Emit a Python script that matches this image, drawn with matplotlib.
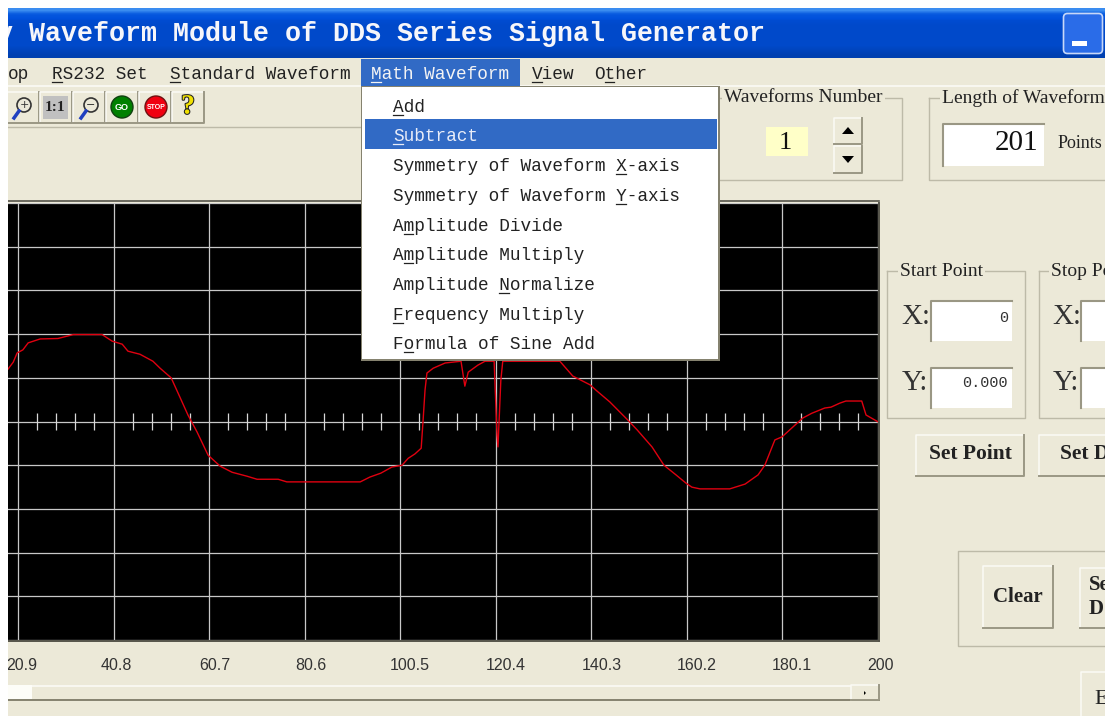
import numpy as np
import matplotlib
matplotlib.use("Agg")
import matplotlib.pyplot as plt
import matplotlib.patheffects as pe
from matplotlib.colors import LinearSegmentedColormap
from matplotlib.patches import Rectangle, FancyBboxPatch, Circle, Polygon

# waveform (x in points, y in divisions)
wave_x = [18.8, 19.9, 20.7, 21.9, 23.0, 25.5, 29.2, 32.4, 38.4, 40.5, 42.6, 43.8, 46.3, 49.0, 50.5,
          52.8, 54.7, 56.3, 58.2, 60.5, 63.0, 65.5, 68.6, 70.7, 75.1, 76.9, 92.2, 94.2, 96.5, 98.8,
          100.9, 102.2, 103.6, 104.9, 105.3, 105.7, 106.1, 107.4, 109.9, 113.2, 114.0, 114.7, 116.7,
          118.2, 120.1, 120.7, 120.9, 121.5, 121.9, 133.8, 136.5, 140.1, 141.3, 144.2, 148.0, 149.9,
          153.0, 155.5, 158.0, 160.1, 161.3, 163.0, 169.2, 172.4, 175.1, 176.5, 178.6, 180.1, 182.8,
          184.4, 186.3, 189.0, 190.3, 192.1, 193.4, 196.7, 197.6, 198.4, 200.0]
wave_y = [1.20, 1.36, 1.57, 1.64, 1.80, 1.89, 1.90, 1.99, 1.99, 1.84, 1.77, 1.61, 1.54, 1.38, 1.22,
          1.00, 0.54, 0.15, -0.24, -0.77, -1.02, -1.16, -1.25, -1.32, -1.32, -1.38, -1.38, -1.27, -1.18, -1.04,
          -1.00, -0.84, -0.74, -0.61, 0.03, 0.72, 1.11, 1.22, 1.34, 1.38, 0.81, 1.13, 1.29,
          1.38, 1.38, -0.31, -0.58, 0.95, 1.38, 1.38, 1.04, 0.84, 0.72, 0.45, 0.03, -0.19,
          -0.58, -1.00, -1.22, -1.41, -1.50, -1.54, -1.54, -1.43, -1.22, -1.00, -0.42, -0.35, -0.08,
          0.08, 0.19, 0.31, 0.33, 0.42, 0.47, 0.47, 0.15, 0.10, 0.0]

x_ticks = [20.9, 40.8, 60.7, 80.6, 100.5, 120.4, 140.3, 160.2, 180.1, 200]
x_tick_labels = ["20.9", "40.8", "60.7", "80.6", "100.5", "120.4", "140.3", "160.2", "180.1", "200"]
label_shift = [4, 3, 6, 6, 10, 10, 11, 10, 10, 3]
y_ticks = [-5, -4, -3, -2, -1, 0, 1, 2, 3, 4, 5]
menu_bar = [("op", 8, None), ("RS232 Set", 52, 0), ("Standard Waveform", 170, 0), ("View", 532, 0), ("Other", 594, 1)]
menu_items = [("Add", 0), ("Subtract", 0), ("Symmetry of Waveform X-axis", 21), ("Symmetry of Waveform Y-axis", 21),
              ("Amplitude Divide", 1), ("Amplitude Multiply", 1), ("Amplitude Normalize", 10),
              ("Frequency Multiply", 0), ("Formula of Sine Add", 1)]
menu_y = [106, 135, 165, 195, 225, 254, 284, 314, 343]

W, H = 1109, 716
BG = "#ECE9D8"
MONO = "Liberation Mono"
SERIF = "Liberation Serif"
CW = 10.63

fig = plt.figure(figsize=(W / 100, H / 100), dpi=100, facecolor="white")


def pixel_axes(z):
    a = fig.add_axes([0, 0, 1, 1], zorder=z)
    a.set_xlim(0, W)
    a.set_ylim(H, 0)
    a.axis("off")
    return a


def box(a, x0, y0, x1, y1, color, z=1, **kw):
    a.add_patch(Rectangle((x0, y0), x1 - x0, y1 - y0, facecolor=color, edgecolor="none", zorder=z, **kw))


def raised(a, x0, y0, x1, y1, face=BG):
    box(a, x0, y0, x1, y1, face, 2)
    a.plot([x0, x0, x1], [y1, y0, y0], color="#FBFAF5", lw=1.1, zorder=3)
    a.plot([x0, x1, x1], [y1, y1, y0], color="#9A9784", lw=1.4, zorder=3)


def sunken(a, x0, y0, x1, y1):
    box(a, x0, y0, x1, y1, "white", 2)
    a.plot([x0, x0, x1], [y1, y0, y0], color="#9A9784", lw=1.5, zorder=3)


def group(a, x0, y0, x1, y1, title, tx):
    a.plot([x0, x0, x1, x1, x0], [y0, y1, y1, y0, y0], color="#BDBAA8", lw=1, zorder=2)
    a.text(tx, y0, title, family=SERIF, fontsize=14, color="#222222", va="center", zorder=4,
           bbox=dict(facecolor=BG, edgecolor="none", pad=1.5))


def mono_text(a, x, y, s, under=None, color="#222222"):
    # baseline anchored so descenders do not shift the row
    a.text(x, y + 6, s, family=MONO, fontsize=12.8, color=color, va="baseline", zorder=6)
    if under is not None:
        a.plot([x + under * CW, x + (under + 1) * CW - 1], [y + 8.5, y + 8.5], color=color, lw=0.9, zorder=6)


bg = pixel_axes(0)
box(bg, 0, 0, W, H, "white", 0)
box(bg, 8, 58, 1105, H, BG, 1)

# title bar gradient
grad = np.array([[0.0], [0.5], [0.75], [0.8], [0.8], [0.8], [0.8], [0.8], [0.9], [1.0]])
bg.imshow(grad, extent=(8, 1105, 58, 8), aspect="auto", zorder=1, interpolation="bilinear",
          cmap=LinearSegmentedColormap.from_list("t", ["#3A8CF0", "#0A5CE0", "#0050DC", "#0040B0"]))
bg.set_xlim(0, W)
bg.set_ylim(H, 0)
bg.text(-3, 41, "y Waveform Module of DDS Series Signal Generator", family=MONO, fontsize=19.2, weight="bold",
        color="#F6F6FA", va="baseline", zorder=4)
bg.add_patch(FancyBboxPatch((1065, 15), 36, 37, boxstyle="round,pad=1.5,rounding_size=4", facecolor="#2A6CE8",
                            edgecolor="#C8D8F8", lw=1.2, zorder=3))
box(bg, 1072, 41, 1087, 46, "white", 4)

# menu bar and toolbar
for s, x, u in menu_bar:
    mono_text(bg, x, 73, s, u)
bg.plot([8, 1105], [86, 86], color="#FBFAF5", lw=1.2, zorder=2)
bg.plot([8, 361], [127, 127], color="#BDBAA8", lw=1, zorder=2)
bg.plot([8, 879], [201, 201], color="#55544A", lw=1.2, zorder=2)

btn_x = [7, 40, 73, 106, 139, 172]
for x in btn_x:
    raised(bg, x, 92, x + 32, 123)
box(bg, 43, 96, 68, 119, "#C0C0C0", 4)
bg.text(55, 107.5, "1:1", family=SERIF, weight="bold", fontsize=11, ha="center", va="center", color="#222222", zorder=5)
for x, sign in ((24, "+"), (91, "\u2212")):
    bg.add_patch(Circle((x, 105), 7, facecolor="none", edgecolor="#333333", lw=1.2, zorder=5))
    bg.plot([x - 5, x - 10], [111, 118], color="#2040C0", lw=2.5, zorder=5)
    bg.text(x, 105, sign, fontsize=8, ha="center", va="center", color="#333333", zorder=6)
bg.add_patch(Circle((122, 107), 11, facecolor="#008000", edgecolor="#104010", lw=1, zorder=5))
bg.text(122, 107.5, "GO", family="Liberation Sans", weight="bold", fontsize=6.5, color="white", ha="center", va="center", zorder=6)
bg.add_patch(Circle((156, 107), 11, facecolor="#F00010", edgecolor="#701010", lw=1, zorder=5))
bg.text(156, 107.5, "STOP", family="Liberation Sans", weight="bold", fontsize=5, color="white", ha="center", va="center", zorder=6)
bg.text(188, 107, "?", family=SERIF, weight="bold", fontsize=20, color="#F0E000", ha="center", va="center", zorder=6,
        path_effects=[pe.withStroke(linewidth=1.5, foreground="#222222")])

# waveform number and length groups
group(bg, 700, 98, 902, 180, "Waveforms Number", 724)
box(bg, 766, 127, 808, 156, "#FFFFC8", 3)
bg.text(785, 143, "1", family=SERIF, fontsize=19, ha="center", va="center", color="#111111", zorder=4)
raised(bg, 834, 118, 862, 144)
raised(bg, 834, 146, 862, 173)
bg.add_patch(Polygon([[842, 134], [854, 134], [848, 127]], facecolor="black", zorder=4))
bg.add_patch(Polygon([[842, 156], [854, 156], [848, 163]], facecolor="black", zorder=4))
group(bg, 929, 98, 1120, 180, "Length of Waveform", 942)
sunken(bg, 943, 124, 1044, 166)
bg.text(1038, 143, "201", family=SERIF, fontsize=21, ha="right", va="center", color="#111111", zorder=4)
bg.text(1058, 144, "Points", family=SERIF, fontsize=13, va="center", color="#222222", zorder=4)

# start / stop point groups
group(bg, 887, 271, 1025, 418, "Start Point", 900)
group(bg, 1039, 271, 1120, 418, "Stop Point", 1051)
for lx, bx0, bx1 in ((901, 931, 1012), (1052, 1081, 1120)):
    bg.text(lx, 317, "X:", family=SERIF, fontsize=21, va="center", color="#333333", zorder=4)
    bg.text(lx + 1, 383, "Y:", family=SERIF, fontsize=21, va="center", color="#333333", zorder=4)
    sunken(bg, bx0, 301, bx1, 341)
    sunken(bg, bx0, 368, bx1, 408)
bg.text(1008, 318, "0", family=MONO, fontsize=11, ha="right", va="center", color="#333333", zorder=4)
bg.text(1008, 383, "0.000", family=MONO, fontsize=11, ha="right", va="center", color="#333333", zorder=4)
raised(bg, 916, 435, 1024, 476)
bg.text(970, 454, "Set Point", family=SERIF, weight="bold", fontsize=15.5, ha="center", va="center", color="#222222", zorder=4)
raised(bg, 1039, 435, 1120, 476)
bg.text(1060, 454, "Set D", family=SERIF, weight="bold", fontsize=15.5, va="center", color="#222222", zorder=4)

# clear group
bg.plot([1120, 958, 958, 1120], [551, 551, 646, 646], color="#BDBAA8", lw=1, zorder=2)
raised(bg, 983, 566, 1053, 628)
bg.text(1018, 597, "Clear", family=SERIF, weight="bold", fontsize=15, ha="center", va="center", color="#222222", zorder=4)
raised(bg, 1080, 568, 1125, 628)
bg.text(1089, 597, "Se\nD", family=SERIF, weight="bold", fontsize=15, va="center", color="#222222", zorder=4)
raised(bg, 1081, 672, 1125, 720)
bg.text(1094, 700, "E", family=SERIF, fontsize=16, va="center", color="#222222", zorder=4)

# scroll bar
bg.plot([8, 851], [686, 686], color="#FBFAF5", lw=1.2, zorder=2)
bg.plot([8, 879], [700, 700], color="#85826F", lw=1.4, zorder=2)
box(bg, 8, 685, 32, 699, "#FDFDF8", 3)
raised(bg, 851, 685, 879, 700)
bg.add_patch(Polygon([[864, 691], [864, 695], [866, 693]], facecolor="black", zorder=4))

# waveform display, positioned so the divisions land on the screen grid
ax = fig.add_axes([8 / W, 1 - 641 / H, 871 / W, 438 / H], zorder=1, facecolor="black")
ax.set_xlim(18.8, 200.3)
ax.set_ylim(-5.02, 5.0)
ax.set_yticks(y_ticks)
ax.set_xticks(x_ticks)
ax.tick_params(length=0, labelleft=False, labelbottom=False)
ax.grid(True, color="#C8C8C8", lw=0.9)
ax.set_axisbelow(True)
for name, sp in ax.spines.items():
    sp.set_color("#55544A")
    sp.set_linewidth(1.4 if name in ("right", "bottom") else 0)
minor = [t + i * 3.98 for t in x_ticks[:-1] for i in range(1, 5)]
ax.vlines(minor, -0.2, 0.2, color="#D8D8D8", lw=0.9)
ax.plot(wave_x, wave_y, color="#E00010", lw=1.0)
for t, s, d in zip(x_ticks, x_tick_labels, label_shift):
    ax.annotate(s, (t, 0), xycoords=("data", "axes fraction"), xytext=(d, -24), textcoords="offset pixels",
                ha="center", va="center", annotation_clip=False, color="#333333", fontsize=11.5,
                family=["Liberation Sans Narrow", "Liberation Sans"])

# open menu on top of the display
top = pixel_axes(2)
box(top, 361, 59, 520, 86, "#316AC5", 2)
mono_text(top, 371, 73, "Math Waveform", 0, color="#F4F4F4")
box(top, 361, 86, 720, 361, "#85826F", 2)
box(top, 362, 87, 718, 359, "white", 3)
box(top, 365, 119, 717, 149, "#316AC5", 4)
for (s, u), y in zip(menu_items, menu_y):
    col = "#E8ECF8" if s == "Subtract" else "#222222"
    mono_text(top, 393, y, s, u, color=col)

# white page margins cut off the screenshot
box(top, 0, 0, 8, H, "white", 9)
box(top, 1105, 0, W, H, "white", 9)
box(top, 0, 0, W, 8, "white", 9)

fig.savefig("out.png", dpi=100, facecolor="white")
